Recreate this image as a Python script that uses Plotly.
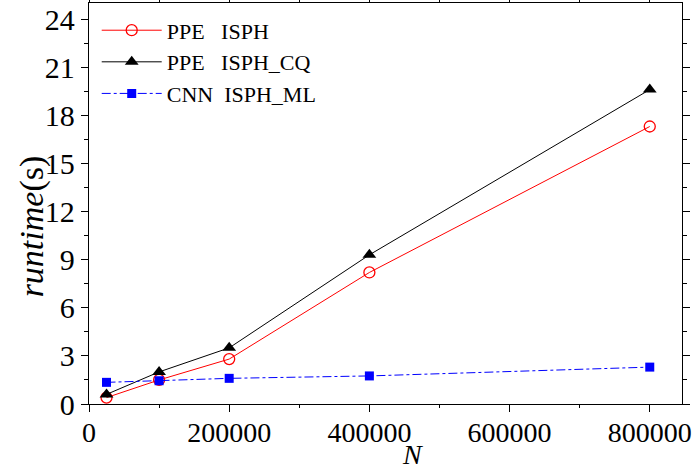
import plotly.graph_objects as go

N = [25000, 100000, 200000, 400000, 800000]
ppe_isph = [0.4, 1.5, 2.8, 8.2, 17.3]
ppe_isph_cq = [0.6, 2.0, 3.5, 9.3, 19.6]
cnn_isph_ml = [1.35, 1.45, 1.6, 1.75, 2.3]
names = ["PPE\u00a0\u00a0\u00a0ISPH", "PPE\u00a0\u00a0\u00a0ISPH_CQ", "CNN\u00a0\u00a0ISPH_ML"]
x_ticks = [0, 200000, 400000, 600000, 800000]
y_ticks = [0, 3, 6, 9, 12, 15, 18, 21, 24]

FONT = "Liberation Serif, Times New Roman, serif"

fig = go.Figure()
fig.add_trace(go.Scatter(x=N, y=ppe_isph, name=names[0], mode="lines+markers",
                         line=dict(color="#ff0000", width=1),
                         marker=dict(symbol="circle-open", size=11, color="#ff0000", line=dict(width=1.3))))
fig.add_trace(go.Scatter(x=N, y=ppe_isph_cq, name=names[1], mode="lines+markers",
                         line=dict(color="#000000", width=1),
                         marker=dict(symbol="triangle-up", size=12, color="#000000")))
fig.add_trace(go.Scatter(x=N, y=cnn_isph_ml, name=names[2], mode="lines+markers",
                         line=dict(color="#0000ff", width=1, dash="dashdot"),
                         marker=dict(symbol="square", size=9, color="#0000ff")))

axis_common = dict(showline=True, linecolor="black", linewidth=1.3, mirror="allticks",
                   ticks="outside", ticklen=7, tickwidth=1.2, tickcolor="black",
                   showgrid=False, zeroline=False, automargin=False)

fig.update_xaxes(range=[0, 846000], tickmode="array", tickvals=x_ticks,
                 ticktext=[str(v) for v in x_ticks], ticklabeloverflow="allow", ticklabelstandoff=-4,
                 tickfont=dict(family=FONT, size=28, color="black"),
                 minor=dict(ticks="outside", ticklen=3, tickwidth=1, tickcolor="black", dtick=100000, tick0=0),
                 **axis_common)
fig.update_yaxes(range=[0, 25], tickmode="array", tickvals=y_ticks,
                 tickfont=dict(family=FONT, size=30, color="black"),
                 minor=dict(ticks="outside", ticklen=4, tickwidth=1, tickcolor="black", dtick=1.5, tick0=0),
                 **axis_common)

fig.add_annotation(text="<i>N</i>", xref="paper", yref="paper", x=0.545, y=0, yshift=-50,
                   xanchor="center", yanchor="middle", showarrow=False,
                   font=dict(family=FONT, size=28, color="black"))
fig.add_annotation(text="<i>runtime</i>(s)", xref="paper", yref="paper", x=0, xshift=-57, y=0.443,
                   xanchor="center", yanchor="middle", textangle=-90, showarrow=False,
                   font=dict(family=FONT, size=34, color="black"))

fig.update_layout(width=693, height=472, margin=dict(l=89, r=11, t=3, b=68, autoexpand=False),
                  plot_bgcolor="white", paper_bgcolor="white",
                  legend=dict(x=0.013, y=0.984, xanchor="left", yanchor="top",
                              font=dict(family=FONT, size=22, color="black"),
                              bgcolor="rgba(0,0,0,0)", itemwidth=60, tracegroupgap=0),
                  font=dict(family=FONT))

fig.write_html("out.html", config={"displayModeBar": False},
               post_script="document.body.style.margin='0';")
